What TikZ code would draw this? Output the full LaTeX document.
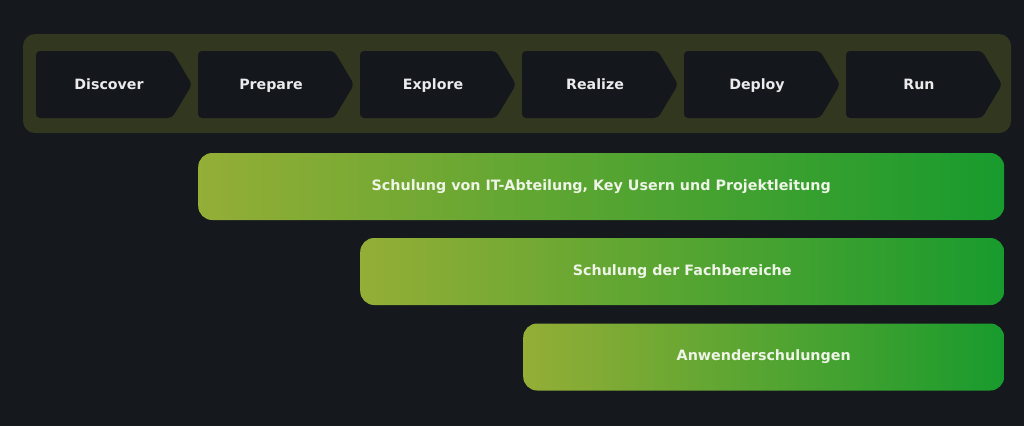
\documentclass[tikz,border=0pt]{standalone}
\usepackage{fontspec}
\setmainfont{DejaVu Sans}
\definecolor{bgdark}{HTML}{15181D}
\definecolor{panelolive}{HTML}{31381F}
\definecolor{phasedark}{HTML}{14171C}
\definecolor{barleft}{HTML}{94AE36}
\definecolor{barright}{HTML}{189B2D}
\definecolor{bartext}{HTML}{EEF4E6}
\begin{document}
\begin{tikzpicture}[x=1pt,y=-1pt,
    phasebox/.style={fill=phasedark,rounded corners=4pt},
    phase/.style={font=\bfseries\fontsize{14.2}{16}\selectfont,text=white!92!black,
        text height=10.5pt,text depth=3pt},
    bar/.style={anchor=west,minimum height=67pt,rounded corners=14pt,
        left color=barleft,right color=barright,
        text height=10.5pt,text depth=3pt,
        font=\bfseries\fontsize{14.3}{16}\selectfont,text=bartext}]
        % background and frame
        \fill[bgdark] (0,0) rectangle (1024,426);
        \useasboundingbox (0,0) rectangle (1024,426);
        \fill[panelolive,rounded corners=12pt] (23,34) rectangle (1011,133);

        % the six phases
        \foreach \name [count=\i from 0] in {Discover,Prepare,Explore,Realize,Deploy,Run} {
                \pgfmathsetmacro\xl{36+162*\i}
                \fill[phasebox] (\xl,51) -- (\xl+136,51) -- (\xl+156,84.5)
                        -- (\xl+136,118) -- (\xl,118) -- cycle;
                \node[phase] (phase\i) at (\xl+73,86) {\name};
        }

        % the trainings
        \foreach \xl/\yc/\txt [count=\i] in {
            198/186.5/{Schulung von IT-Abteilung, Key Usern und Projektleitung},
            360/271.5/{Schulung der Fachbereiche},
            523/357/{Anwenderschulungen}}
                \node[bar,minimum width=1004pt-\xl pt] (training\i) at (\xl,\yc) {\txt};
    \end{tikzpicture}
\end{document}
